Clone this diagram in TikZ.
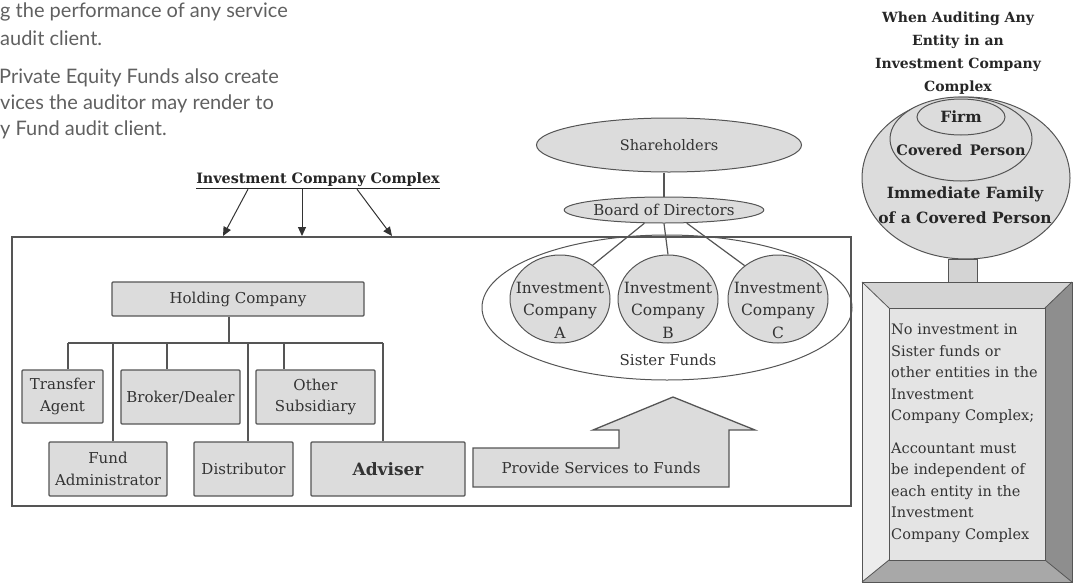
\documentclass[tikz,border=0pt]{standalone}
\usepackage{fontspec}
\setmainfont{DejaVu Serif}
\newfontfamily\latofont{Lato}
\usetikzlibrary{shapes.geometric,arrows.meta,calc}
\definecolor{boxfill}{HTML}{DCDCDC}
\definecolor{edge}{HTML}{555555}
\definecolor{ink}{HTML}{333333}
\definecolor{prose}{HTML}{606060}
\definecolor{bevtop}{HTML}{D4D4D4}
\definecolor{bevleft}{HTML}{ECECEC}
\definecolor{bevright}{HTML}{8E8E8E}
\definecolor{bevbot}{HTML}{A8A8A8}
\definecolor{bevin}{HTML}{E4E4E4}
\begin{document}
\begin{tikzpicture}[x=1pt,y=-1pt,
  txt/.style={font=\fontsize{15}{21.5}\selectfont, text=ink, align=center, inner sep=0pt},
  box/.style={draw=edge, line width=1.3pt, fill=boxfill, rounded corners=1pt, inner sep=0pt, txt},
  oval/.style={ellipse, draw=edge, line width=1pt, fill=boxfill, inner sep=0pt, txt},
  link/.style={draw=edge, line width=1.2pt},
  pointer/.style={draw=black!80, line width=1pt, -{Triangle[length=9pt,width=8pt]}},
  prosetext/.style={anchor=west, inner sep=0pt, font=\latofont\fontsize{20}{24}\selectfont, text=prose},
  boldtxt/.style={font=\bfseries\fontsize{14}{23}\selectfont, text=black!85, align=center, inner sep=0pt}
]
\useasboundingbox (0,0) rectangle (1074,584);

% prose at top left
\node[prosetext] (p1) at (0,12) {g the performance of any service};
\node[prosetext] (p2) at (0,38) {audit client.};
\node[prosetext] (p3) at (-1,78) {Private Equity Funds also create};
\node[prosetext] (p4) at (0,104) {vices the auditor may render to};
\node[prosetext] (p5) at (0,130) {y Fund audit client.};

% big complex rectangle
\node[draw=edge, line width=1.3pt, minimum width=839pt, minimum height=269pt, inner sep=0pt] (icc) at (431.5,371.5) {};

% header and arrows
\node[boldtxt, font=\bfseries\fontsize{14.3}{17}\selectfont] (hdr) at (318,181) {\underline{Investment Company Complex}};
\coordinate (t1) at (223,236);
\coordinate (t2) at (302,236);
\coordinate (t3) at (392,236);
\draw[pointer] ($(hdr.south)+(-70,0)$) -- (t1);
\draw[pointer] ($(hdr.south)+(-16,0)$) -- (t2);
\draw[pointer] ($(hdr.south)+(39,0)$) -- (t3);

% holding tree
\node[box, minimum width=252pt, minimum height=34pt] (hold) at (238,299) {Holding Company};
\node[box, minimum width=81pt, minimum height=53pt] (ta) at (62.5,396.5) {Transfer\\Agent};
\node[box, minimum width=119pt, minimum height=54pt] (bd) at (180.5,397) {Broker/Dealer};
\node[box, minimum width=119pt, minimum height=54pt] (os) at (315.5,397) {Other\\Subsidiary};
\node[box, minimum width=118pt, minimum height=54pt] (fa) at (108,469) {Fund\\Administrator};
\node[box, minimum width=99pt, minimum height=54pt] (dist) at (243.5,469) {Distributor};
\node[box, minimum width=154pt, minimum height=54pt, font=\bfseries\fontsize{17}{20}\selectfont] (adv) at (388,469) {Adviser};

\coordinate (bus) at (229,343);
\coordinate (d1) at (68,343);
\coordinate (d2) at (113,343);
\coordinate (d3) at (167,343);
\coordinate (d4) at (248,343);
\coordinate (d5) at (284,343);
\coordinate (d6) at (383,343);
\draw[link] (hold.south -| bus) -- (bus);
\draw[link] (d1) -- (d6);
\draw[link] (d1) -- (d1 |- ta.north);
\draw[link] (d2) -- (d2 |- fa.north);
\draw[link] (d3) -- (d3 |- bd.north);
\draw[link] (d4) -- (d4 |- dist.north);
\draw[link] (d5) -- (d5 |- os.north);
\draw[link] (d6) -- (d6 |- adv.north);

% funds side
\node[oval, minimum width=265pt, minimum height=54pt, font=\fontsize{14.5}{17}\selectfont] (sh) at (669,145) {Shareholders};
\node[oval, minimum width=165pt, minimum height=26pt] (board) at (664,210) {Board of Directors};
\draw[link] (sh.south -| board.north) -- (board.north);

\node[ellipse, draw=edge, line width=1pt, minimum width=370pt, minimum height=145pt, inner sep=0pt] (sister) at (667,307.5) {};
\node[oval, minimum width=100pt, minimum height=88pt] (fa1) at (560,299) {};
\node[oval, minimum width=100pt, minimum height=88pt] (fb1) at (668,299) {};
\node[oval, minimum width=100pt, minimum height=88pt] (fc1) at (778,299) {};
\node[txt, font=\fontsize{15.5}{22.5}\selectfont] (ta1) at (560,310) {Investment\\Company\\A};
\node[txt, font=\fontsize{15.5}{22.5}\selectfont] (tb1) at (668,310) {Investment\\Company\\B};
\node[txt, font=\fontsize{15.5}{22.5}\selectfont] (tc1) at (778,310) {Investment\\Company\\C};
\node[txt] (sfl) at (668,360) {Sister Funds};
\draw[link] (board.214) -- (fa1.46);
\draw[link] (board.south) -- (fb1.north);
\draw[link] (board.330) -- (fc1.135);

% provide services arrow
\draw[draw=edge, line width=1.3pt, fill=boxfill] (473,448) -- (619,448) -- (619,430) -- (593,430) -- (673,397) -- (755,430) -- (729,430) -- (729,487) -- (473,487) -- cycle;
\node[txt] (prov) at (601,468) {Provide Services to Funds};

% right side: covered persons
\node[boldtxt] (ttl) at (958,53) {When Auditing Any\\Entity in an\\Investment Company\\Complex};
\node[oval, minimum width=208pt, minimum height=162pt] (fam) at (966,178) {};
\node[ellipse, draw=edge, line width=1pt, fill=boxfill, inner sep=0pt, minimum width=142pt, minimum height=84pt] (cov) at (961,139) {};
\node[ellipse, draw=edge, line width=1pt, fill=boxfill, inner sep=0pt, minimum width=88pt, minimum height=36pt, boldtxt, font=\bfseries\fontsize{15.5}{18}\selectfont] (firm) at (961,117) {Firm};
\node[boldtxt, font=\bfseries\fontsize{14.5}{18}\selectfont] (covt) at (961,150) {Covered\, Person};
\node[boldtxt, font=\bfseries\fontsize{15.5}{25}\selectfont] (famt) at (965,205) {Immediate Family\\of a Covered Person};

% connector between circle and frame
\draw[draw=edge, line width=1pt, fill=bevtop] (948,259) rectangle (977,282);

% beveled frame
\fill[bevtop] (862,282) -- (1072,282) -- (1045,308) -- (889,308) -- cycle;
\fill[bevleft] (862,282) -- (889,308) -- (889,560) -- (862,582) -- cycle;
\fill[bevright] (1072,282) -- (1072,582) -- (1045,560) -- (1045,308) -- cycle;
\fill[bevbot] (862,582) -- (889,560) -- (1045,560) -- (1072,582) -- cycle;
\draw[draw=edge, line width=1pt, fill=bevin] (889,308) rectangle (1045,560);
\draw[draw=edge, line width=1pt] (862,282) rectangle (1072,582);
\draw[draw=edge, line width=0.8pt] (862,282) -- (889,308) (1072,282) -- (1045,308) (862,582) -- (889,560) (1072,582) -- (1045,560);
\node[anchor=north west, inner sep=0pt, text width=156pt, align=left, text=ink, font=\fontsize{14.5}{21.5}\selectfont] (rule) at (891,324) {No investment in\\Sister funds or\\other entities in the\\Investment\\Company Complex;\par\vspace{11pt}Accountant must\\be independent of\\each entity in the\\Investment\\Company Complex};
\end{tikzpicture}
\end{document}
